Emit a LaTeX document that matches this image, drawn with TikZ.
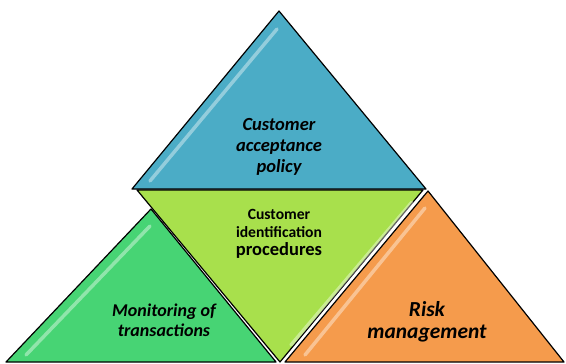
\documentclass[tikz,border=0pt]{standalone}
\usepackage{fontspec}
\setmainfont{Carlito}
\definecolor{policyblue}{HTML}{4BACC6}
\definecolor{idlime}{HTML}{A8E04C}
\definecolor{monitorgreen}{HTML}{47D474}
\definecolor{riskorange}{HTML}{F59B4C}
\begin{document}
\begin{tikzpicture}[x=1pt, y=-1pt,
		face/.style={draw=black, line width=1.2pt, line join=round},
		gloss/.style={white, line width=3.5pt, line cap=round, opacity=0.4},
		label/.style={align=center, font=\bfseries\itshape\fontsize{18.5}{21}\selectfont}]
	\useasboundingbox (0,0) rectangle (566,364);

	% corners of the four triangles
	\coordinate (pt)	at (279,11);
	\coordinate (pl)	at (132,189);
	\coordinate (pr)	at (426,189);
	\coordinate (il)	at (137,190);
	\coordinate (ir)	at (423,190);
	\coordinate (ib)	at (280,362);
	\coordinate (mt)	at (151,209);
	\coordinate (ml)	at (6,362);
	\coordinate (mr)	at (276,362);
	\coordinate (rt)	at (428,191);
	\coordinate (rl)	at (285,362);
	\coordinate (rr)	at (564,362);

	% customer acceptance policy
	\draw[face, fill=policyblue]	(pt) -- (pl) -- (pr) -- cycle;
	\draw[gloss]	(277,29) -- (150,181);

	% monitoring of transactions
	\draw[face, fill=monitorgreen]	(mt) -- (ml) -- (mr) -- cycle;
	\draw[gloss]	(150,226) -- (26,355);

	% risk management
	\draw[face, fill=riskorange]	(rt) -- (rl) -- (rr) -- cycle;
	\draw[gloss]	(425,208) -- (305,355);

	% customer identification procedures
	\draw[face, fill=idlime]	(il) -- (ir) -- (ib) -- cycle;
	\draw[gloss]	(412,202) -- (291,345);

	% labels
	\node[label]	(policy)	at (279,147)	{Customer\\acceptance\\policy};
	\node[align=center, font=\bfseries\fontsize{15.6}{18}\selectfont]	(ident)	at (279,234)
		{Customer\\identification\\{\fontsize{18.5}{18}\selectfont procedures}};
	\node[label, font=\bfseries\itshape\fontsize{18}{20}\selectfont]	(monitor)	at (164,320)	{Monitoring of\\transactions};
	\node[label, font=\bfseries\itshape\fontsize{21.4}{22}\selectfont]	(risk)	at (427,322)	{Risk\\management};
\end{tikzpicture}
\end{document}
